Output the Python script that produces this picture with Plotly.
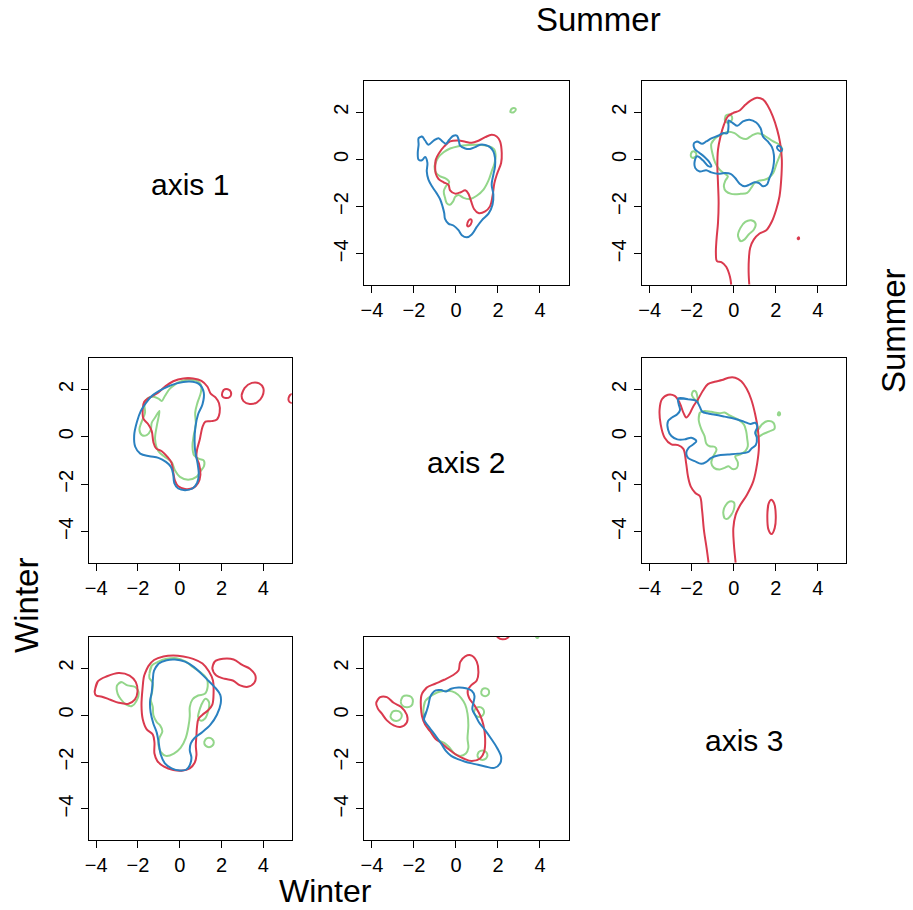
import plotly.graph_objects as go

RED = "#DA3A4E"
BLUE = "#2A80C0"
GREEN = "#93D68A"

X_TICKS = [-4, -2, 0, 2, 4]
Y_TICKS = [-4, -2, 0, 2]
X_RANGE = [-4.36, 5.36]
Y_RANGE = [-5.32, 3.32]
DIAG_LABELS = ["axis 1", "axis 2", "axis 3"]
TOP_LABEL = "Summer"
SIDE_LABEL = "Winter"

# ---------------- panel row 1, col 2 ----------------
p12_blue = [(-1.78, 0.90), (-1.62, 0.97), (-1.47, 0.80), (-1.31, 0.62), (-1.07, 0.79), (-0.83, 0.90),
            (-0.64, 0.76), (-0.48, 0.66), (-0.32, 0.83), (-0.12, 1.00), (0.04, 1.01), (0.12, 0.86),
            (0.20, 0.58), (0.44, 0.46), (0.67, 0.44), (0.91, 0.52), (1.15, 0.62), (1.39, 0.61),
            (1.62, 0.52), (1.78, 0.34), (1.86, 0.06), (1.86, -0.30), (1.78, -0.65), (1.70, -1.07),
            (1.78, -1.49), (1.74, -1.92), (1.55, -2.30), (1.23, -2.58), (0.99, -2.86), (0.75, -3.18),
            (0.52, -3.30), (0.28, -3.21), (0.12, -3.00), (-0.12, -2.80), (-0.36, -2.72), (-0.52, -2.52),
            (-0.56, -2.27), (-0.64, -1.99), (-0.75, -1.70), (-0.91, -1.45), (-1.12, -1.17), (-1.31, -0.86),
            (-1.39, -0.51), (-1.36, -0.15), (-1.47, 0.10), (-1.62, -0.04), (-1.78, -0.01), (-1.82, 0.27),
            (-1.78, 0.62)]
p12_red = [(-0.99, -0.37), (-0.96, -0.01), (-0.80, 0.27), (-0.56, 0.55), (-0.28, 0.76), (0.12, 0.80),
           (0.44, 0.75), (0.75, 0.70), (1.07, 0.79), (1.39, 0.94), (1.70, 1.04), (1.94, 0.97),
           (2.10, 0.76), (2.18, 0.27), (2.15, -0.15), (1.97, -0.58), (1.83, -1.00), (1.74, -1.56),
           (1.62, -1.99), (1.39, -2.20), (1.07, -2.27), (0.86, -2.10), (0.72, -1.77), (0.59, -1.45),
           (0.44, -1.31), (0.23, -1.39), (-0.04, -1.45), (-0.28, -1.31), (-0.36, -1.07), (-0.59, -0.97),
           (-0.83, -0.83), (-0.96, -0.61)]
p12_red_small = [(0.53, -2.80), (0.58, -2.62), (0.70, -2.54), (0.75, -2.58), (0.70, -2.76), (0.58, -2.84)]
p12_green = [(-1.02, -0.30), (-0.86, 0.06), (-0.59, 0.30), (-0.28, 0.46), (0.12, 0.56), (0.59, 0.61),
             (1.07, 0.62), (1.55, 0.56), (1.81, 0.44), (1.89, 0.13), (1.83, -0.18), (1.70, -0.51),
             (1.55, -0.89), (1.31, -1.28), (0.99, -1.54), (0.67, -1.68), (0.36, -1.63), (0.12, -1.51),
             (-0.04, -1.59), (-0.13, -1.77), (-0.29, -1.92), (-0.44, -1.85), (-0.52, -1.63), (-0.58, -1.35),
             (-0.48, -1.14), (-0.32, -0.96), (-0.52, -0.79), (-0.75, -0.72), (-0.94, -0.58)]
p12_green_small = [(2.58, 2.02), (2.65, 2.14), (2.80, 2.17), (2.85, 2.12), (2.76, 2.00), (2.63, 1.99)]

# ---------------- panel row 1, col 3 ----------------
p13_red = [(-0.12, -5.30), (-0.18, -4.97), (-0.36, -4.55), (-0.59, -4.35), (-0.80, -4.31), (-0.85, -3.96),
           (-0.82, -3.39), (-0.75, -2.69), (-0.72, -1.85), (-0.75, -1.00), (-0.78, -0.30), (-0.75, 0.41),
           (-0.63, 0.97), (-0.47, 1.46), (-0.28, 1.82), (-0.04, 1.96), (0.28, 2.07), (0.55, 2.31),
           (0.80, 2.49), (1.10, 2.61), (1.39, 2.54), (1.62, 2.27), (1.86, 1.82), (2.07, 1.25),
           (2.21, 0.69), (2.29, -0.01), (2.26, -0.86), (2.18, -1.56), (2.02, -2.13), (1.82, -2.62),
           (1.55, -3.00), (1.23, -3.14), (0.96, -3.39), (0.78, -3.75), (0.72, -4.24), (0.71, -4.80),
           (0.74, -5.30)]
p13_red_dot = [(3.05, -3.33), (3.10, -3.30), (3.11, -3.36), (3.06, -3.38)]
p13_blue = [(-1.89, 0.69), (-1.74, 0.76), (-1.51, 0.66), (-1.31, 0.76), (-1.04, 0.90), (-0.75, 1.00),
            (-0.52, 1.11), (-0.31, 1.11), (-0.25, 1.39), (-0.25, 1.65), (-0.04, 1.54), (0.17, 1.42),
            (0.44, 1.61), (0.75, 1.68), (1.07, 1.56), (1.28, 1.32), (1.39, 0.97), (1.62, 0.76),
            (1.82, 0.52), (1.91, 0.20), (1.91, -0.15), (1.83, -0.51), (1.70, -0.79), (1.58, -1.07),
            (1.39, -1.14), (1.20, -1.00), (0.99, -0.97), (0.75, -1.07), (0.52, -1.14), (0.28, -1.03),
            (0.07, -0.79), (-0.15, -0.61), (-0.44, -0.58), (-0.75, -0.61), (-1.07, -0.55), (-1.31, -0.46),
            (-1.62, -0.51), (-1.83, -0.37), (-1.86, -0.08), (-1.74, 0.13), (-1.47, -0.04), (-1.23, -0.27),
            (-1.07, -0.30), (-1.15, -0.13), (-1.39, 0.10), (-1.67, 0.30), (-1.86, 0.44)]
p13_blue_small = [(2.06, 0.52), (2.12, 0.58), (2.24, 0.52), (2.30, 0.40), (2.24, 0.34), (2.12, 0.40)]
p13_green = [(-1.07, 0.66), (-0.88, 0.90), (-0.59, 1.04), (-0.28, 1.17), (0.04, 1.11), (0.33, 0.92),
             (0.59, 0.86), (0.86, 1.01), (1.15, 1.11), (1.47, 1.00), (1.86, 0.77), (2.18, 0.62),
             (2.31, 0.45), (2.20, 0.18), (2.04, -0.18), (1.88, -0.58), (1.70, -0.76), (1.47, -0.86),
             (1.20, -0.90), (0.99, -1.00), (0.83, -1.21), (0.64, -1.42), (0.33, -1.46), (-0.12, -1.46),
             (-0.37, -1.35), (-0.47, -1.14), (-0.40, -0.90), (-0.28, -0.72), (-0.47, -0.58), (-0.67, -0.44),
             (-0.88, -0.15), (-1.02, 0.27)]
p13_green_top = [(-0.42, 1.65), (-0.38, 1.85), (-0.22, 1.90), (-0.08, 1.80), (-0.12, 1.62), (-0.28, 1.55)]
p13_green_left = [(-2.05, 0.20), (-1.98, 0.33), (-1.85, 0.32), (-1.78, 0.22), (-1.88, 0.08), (-2.00, 0.08)]
p13_green_low = [(0.32, -3.46), (0.20, -3.23), (0.32, -2.90), (0.55, -2.65), (0.83, -2.58), (1.04, -2.72),
                 (0.96, -2.97), (0.71, -3.18), (0.52, -3.39)]

# ---------------- panel row 2, col 1 ----------------
p21_red = [(0.17, 2.46), (0.64, 2.46), (1.04, 2.36), (1.32, 2.12), (1.48, 1.82), (1.72, 1.65),
           (1.88, 1.41), (1.91, 1.02), (1.78, 0.73), (1.51, 0.66), (1.23, 0.64), (1.09, 0.42),
           (0.96, -0.11), (0.83, -0.54), (0.80, -0.85), (0.93, -1.17), (0.99, -1.60), (0.88, -1.95),
           (0.64, -2.16), (0.25, -2.20), (-0.07, -2.09), (-0.23, -1.85), (-0.31, -1.50), (-0.39, -1.10),
           (-0.59, -0.85), (-0.86, -0.61), (-1.13, -0.49), (-1.26, -0.23), (-1.34, 0.24), (-1.50, 0.52),
           (-1.74, 0.76), (-1.77, 1.16), (-1.70, 1.47), (-1.45, 1.65), (-1.07, 1.84), (-0.70, 2.12),
           (-0.31, 2.34)]
p21_red_small = [(2.02, 1.80), (2.10, 1.97), (2.30, 2.00), (2.45, 1.88), (2.40, 1.68), (2.20, 1.63), (2.06, 1.68)]
p21_red_mid = [(2.96, 1.75), (3.10, 2.05), (3.45, 2.27), (3.80, 2.25), (4.00, 2.05), (3.95, 1.70),
               (3.70, 1.45), (3.35, 1.38), (3.05, 1.50)]
p21_red_edge = [(5.20, 1.60), (5.28, 1.76), (5.45, 1.80), (5.60, 1.70), (5.60, 1.50), (5.42, 1.42), (5.26, 1.46)]
p21_blue = [(-1.86, 1.09), (-1.66, 1.37), (-1.34, 1.72), (-0.78, 2.03), (-0.15, 2.25), (0.48, 2.33),
            (0.93, 2.22), (1.15, 1.86), (1.09, 1.37), (0.88, 0.95), (0.75, 0.42), (0.71, -0.18),
            (0.75, -0.68), (0.85, -1.10), (0.91, -1.60), (0.83, -1.95), (0.61, -2.18), (0.25, -2.25),
            (-0.07, -2.18), (-0.26, -1.95), (-0.31, -1.60), (-0.42, -1.27), (-0.66, -1.06), (-1.02, -0.89),
            (-1.45, -0.82), (-1.89, -0.71), (-2.13, -0.42), (-2.18, 0.06), (-2.05, 0.62)]
p21_green = [(-0.07, 2.29), (-0.47, 2.03), (-0.71, 1.72), (-0.86, 1.51), (-1.02, 1.61), (-1.26, 1.69),
             (-1.55, 1.61), (-1.69, 1.37), (-1.66, 1.02), (-1.81, 0.66), (-1.93, 0.31), (-1.81, 0.07),
             (-1.58, 0.07), (-1.39, 0.28), (-1.34, 0.59), (-1.18, 0.81), (-0.97, 1.09), (-1.10, 0.45),
             (-1.18, -0.11), (-1.02, -0.61), (-0.71, -0.85), (-0.39, -1.07), (-0.23, -1.41), (0.01, -1.69),
             (0.40, -1.81), (0.80, -1.69), (0.99, -1.45), (1.16, -1.24), (1.15, -1.00), (0.93, -0.93),
             (0.69, -0.79), (0.61, -0.40), (0.67, 0.06), (0.77, 0.52), (0.74, 1.02), (0.85, 1.44),
             (1.01, 1.86), (1.02, 2.18), (0.80, 2.36), (0.36, 2.40)]

# ---------------- panel row 2, col 3 ----------------
p23_red = [(-1.20, -5.30), (-1.29, -4.70), (-1.42, -3.93), (-1.51, -3.08), (-1.61, -2.51), (-1.83, -2.37),
           (-2.05, -2.09), (-2.18, -1.67), (-2.27, -1.10), (-2.40, -0.51), (-2.65, -0.35), (-2.97, -0.32),
           (-3.29, -0.04), (-3.48, 0.52), (-3.53, 1.16), (-3.42, 1.58), (-3.13, 1.77), (-2.81, 1.72),
           (-2.58, 1.44), (-2.40, 1.02), (-2.26, 0.81), (-2.10, 0.97), (-1.94, 1.26), (-1.70, 1.58),
           (-1.47, 1.94), (-1.23, 2.22), (-0.91, 2.32), (-0.56, 2.39), (-0.25, 2.49), (0.07, 2.49),
           (0.36, 2.34), (0.61, 2.03), (0.83, 1.58), (1.02, 0.95), (1.15, 0.31), (1.20, -0.40),
           (1.12, -1.10), (0.93, -1.88), (0.63, -2.44), (0.31, -2.88), (0.09, -3.29), (-0.02, -3.86),
           (0.01, -4.56), (0.09, -5.30)]
p23_red_oval = [(1.60, -3.30), (1.65, -2.85), (1.78, -2.65), (1.92, -2.80), (2.00, -3.30), (1.95, -3.85),
                (1.80, -4.10), (1.65, -3.90)]
p23_blue = [(-2.65, 1.61), (-2.18, 1.58), (-1.78, 1.51), (-1.62, 1.27), (-1.50, 1.06), (-1.26, 0.99),
            (-0.88, 0.93), (-0.44, 0.85), (0.04, 0.76), (0.48, 0.64), (0.80, 0.54), (1.02, 0.59),
            (1.12, 0.42), (1.02, 0.17), (1.10, -0.04), (1.05, -0.35), (0.86, -0.48), (0.67, -0.65),
            (0.20, -0.71), (-0.28, -0.75), (-0.75, -0.79), (-1.07, -0.89), (-1.31, -1.06), (-1.55, -1.14),
            (-1.86, -1.03), (-2.18, -0.89), (-2.26, -0.68), (-2.15, -0.47), (-1.93, -0.32), (-1.78, -0.18),
            (-2.02, -0.04), (-2.34, -0.11), (-2.69, -0.11), (-2.97, 0.03), (-3.13, 0.31), (-3.13, 0.66),
            (-2.94, 0.81), (-2.69, 0.95), (-2.56, 1.12), (-2.62, 1.37)]
p23_green = [(-1.67, 0.73), (-1.61, 1.02), (-1.39, 1.09), (-1.07, 1.05), (-0.67, 0.99), (-0.44, 1.02),
             (-0.20, 0.90), (0.20, 0.73), (0.48, 0.52), (0.59, 0.24), (0.64, -0.08), (0.67, -0.40),
             (0.55, -0.61), (0.29, -0.75), (0.07, -0.82), (0.20, -1.10), (0.15, -1.31), (-0.06, -1.36),
             (-0.25, -1.24), (-0.44, -1.31), (-0.67, -1.38), (-0.94, -1.31), (-1.07, -1.10), (-0.99, -0.85),
             (-0.82, -0.54), (-0.91, -0.42), (-1.15, -0.40), (-1.31, -0.28), (-1.39, 0.03), (-1.54, 0.31)]
p23_green_top = [(-2.00, 1.80), (-1.92, 1.93), (-1.80, 1.90), (-1.72, 1.62), (-1.70, 1.46), (-1.82, 1.55), (-1.95, 1.68)]
p23_green_right = [(1.15, 0.28), (1.34, 0.52), (1.62, 0.66), (1.89, 0.59), (1.94, 0.34), (1.70, 0.23),
                   (1.39, 0.11), (1.15, 0.00), (1.05, 0.14)]
p23_green_dot = [(2.10, 0.97), (2.14, 1.03), (2.20, 1.00), (2.19, 0.92), (2.12, 0.91)]
p23_green_low = [(-0.44, -3.43), (-0.50, -3.19), (-0.40, -2.91), (-0.20, -2.73), (0.01, -2.77), (0.01, -3.05),
                 (-0.12, -3.29), (-0.31, -3.46)]

# ---------------- panel row 3, col 1 ----------------
p31_red = [(-1.70, 1.68), (-1.50, 2.08), (-1.23, 2.34), (-0.78, 2.49), (-0.31, 2.53), (0.17, 2.49),
           (0.64, 2.39), (1.09, 2.19), (1.40, 1.85), (1.59, 1.47), (1.62, 0.97), (1.56, 0.44),
           (1.36, 0.20), (1.09, 0.01), (0.90, -0.16), (0.83, -0.47), (0.80, -0.86), (0.77, -1.31),
           (0.80, -1.71), (0.72, -2.02), (0.48, -2.27), (0.09, -2.37), (-0.31, -2.34), (-0.75, -2.20),
           (-1.07, -1.96), (-1.21, -1.64), (-1.21, -1.17), (-1.29, -0.83), (-1.58, -0.61), (-1.77, -0.18),
           (-1.83, 0.41), (-1.78, 1.12)]
p31_red_left = [(-4.07, 0.97), (-3.92, 1.43), (-3.48, 1.65), (-2.92, 1.79), (-2.40, 1.68), (-2.10, 1.40),
                (-2.02, 1.00), (-2.15, 0.65), (-2.45, 0.48), (-2.92, 0.52), (-3.32, 0.65), (-3.72, 0.78),
                (-4.00, 0.83)]
p31_red_right = [(1.56, 1.99), (1.67, 2.27), (2.07, 2.39), (2.58, 2.36), (2.99, 2.13), (3.37, 1.96),
                 (3.62, 1.68), (3.57, 1.37), (3.26, 1.20), (2.89, 1.26), (2.54, 1.47), (2.15, 1.54),
                 (1.75, 1.68)]
p31_blue = [(-1.23, 1.89), (-1.02, 2.18), (-0.63, 2.33), (-0.23, 2.36), (0.25, 2.27), (0.67, 2.05),
            (1.04, 1.75), (1.36, 1.47), (1.67, 1.19), (1.94, 0.86), (1.96, 0.48), (1.78, 0.01),
            (1.47, -0.41), (1.05, -0.75), (0.72, -0.97), (0.53, -1.21), (0.48, -1.50), (0.56, -1.82),
            (0.48, -2.13), (0.32, -2.32), (0.01, -2.36), (-0.39, -2.27), (-0.71, -2.06), (-0.91, -1.68),
            (-1.01, -1.17), (-1.10, -0.75), (-1.26, -0.37), (-1.39, 0.10), (-1.42, 0.58), (-1.34, 0.97),
            (-1.29, 1.47)]
p31_green = [(-1.45, 1.75), (-1.34, 2.10), (-1.02, 2.27), (-0.63, 2.39), (-0.15, 2.42), (0.29, 2.27),
             (0.64, 2.03), (0.99, 1.82), (1.28, 1.57), (1.34, 1.23), (1.20, 0.90), (0.88, 0.83),
             (0.61, 0.66), (0.48, 0.34), (0.48, -0.04), (0.42, -0.47), (0.29, -0.97), (0.04, -1.40),
             (-0.28, -1.64), (-0.66, -1.74), (-0.91, -1.57), (-1.02, -1.26), (-0.97, -0.97), (-0.83, -0.69),
             (-0.94, -0.44), (-1.10, -0.30), (-1.26, -0.01), (-1.29, 0.34), (-1.39, 0.66), (-1.32, 1.00),
             (-1.29, 1.37), (-1.45, 1.57)]
p31_green_left = [(-3.00, 1.26), (-2.81, 1.40), (-2.50, 1.26), (-2.13, 1.19), (-1.97, 0.97), (-2.08, 0.58),
                  (-2.29, 0.38), (-2.56, 0.44), (-2.81, 0.66), (-2.97, 0.90)]
p31_green_right = [(0.91, 0.10), (1.04, 0.44), (1.23, 0.69), (1.40, 0.55), (1.36, 0.16), (1.20, -0.16),
                   (1.00, -0.24), (0.88, -0.08)]
p31_green_ring = [(1.17, -1.17), (1.24, -1.03), (1.40, -0.97), (1.56, -1.03), (1.63, -1.17), (1.56, -1.31),
                  (1.40, -1.37), (1.24, -1.31)]

# ---------------- panel row 3, col 2 ----------------
p32_red = [(-1.62, 0.90), (-1.39, 1.17), (-0.99, 1.33), (-0.56, 1.50), (-0.17, 1.68), (0.12, 1.89),
           (0.20, 2.25), (0.44, 2.50), (0.75, 2.53), (0.99, 2.27), (1.07, 1.82), (0.99, 1.47),
           (0.72, 1.26), (0.56, 1.05), (0.63, 0.72), (0.88, 0.41), (1.15, -0.01), (1.31, -0.44),
           (1.39, -1.00), (1.34, -1.57), (1.15, -1.85), (0.75, -1.96), (0.36, -1.85), (-0.01, -1.68),
           (-0.36, -1.45), (-0.67, -1.21), (-0.99, -1.00), (-1.23, -0.69), (-1.47, -0.41), (-1.62, -0.04),
           (-1.67, 0.34), (-1.67, 0.69)]
p32_red_left = [(-3.80, 0.52), (-3.61, 0.76), (-3.29, 0.76), (-2.97, 0.52), (-2.61, 0.34), (-2.34, 0.01),
                (-2.34, -0.32), (-2.65, -0.51), (-2.97, -0.44), (-3.29, -0.23), (-3.53, 0.06), (-3.72, 0.27)]
p32_red_top = [(1.90, 3.45), (2.00, 3.30), (2.21, 3.22), (2.45, 3.28), (2.55, 3.42), (2.45, 3.60),
               (2.20, 3.65), (1.95, 3.58)]
p32_blue = [(-1.53, -0.18), (-1.40, 0.16), (-1.31, 0.44), (-1.23, 0.76), (-1.12, 0.93), (-0.96, 1.05),
            (-0.71, 1.06), (-0.47, 1.00), (-0.23, 1.12), (0.12, 1.17), (0.47, 1.14), (0.75, 1.03),
            (0.88, 0.81), (0.83, 0.52), (0.78, 0.24), (0.94, -0.04), (1.10, -0.32), (1.36, -0.61),
            (1.67, -1.00), (1.96, -1.40), (2.15, -1.78), (2.10, -2.06), (1.83, -2.25), (1.39, -2.19),
            (0.91, -2.09), (0.44, -1.99), (0.09, -1.88), (-0.23, -1.74), (-0.47, -1.54), (-0.71, -1.21),
            (-0.99, -0.86), (-1.28, -0.51)]
p32_green = [(-1.55, 0.24), (-1.47, 0.58), (-1.31, 0.73), (-1.07, 0.88), (-0.75, 1.00), (-0.36, 1.03),
             (-0.04, 0.95), (0.25, 0.72), (0.44, 0.44), (0.55, 0.06), (0.59, -0.44), (0.55, -1.00),
             (0.59, -1.40), (0.47, -1.64), (0.20, -1.74), (-0.07, -1.64), (-0.32, -1.37), (-0.56, -1.19),
             (-0.83, -1.07), (-1.07, -0.86), (-1.31, -0.58), (-1.50, -0.30)]
p32_green_top = [(3.80, 3.36), (3.85, 3.28), (3.92, 3.30), (3.90, 3.40)]
p32_green_c1 = [(-3.12, -0.04), (-3.02, 0.14), (-2.85, 0.18), (-2.65, 0.12), (-2.58, -0.04), (-2.68, -0.20),
                (-2.85, -0.25), (-3.05, -0.18)]
p32_green_c2 = [(-2.63, 0.58), (-2.54, 0.78), (-2.34, 0.83), (-2.12, 0.76), (-2.05, 0.58), (-2.14, 0.38),
                (-2.34, 0.33), (-2.55, 0.40)]
p32_green_c3 = [(1.20, 0.97), (1.26, 1.10), (1.39, 1.14), (1.53, 1.09), (1.58, 0.97), (1.52, 0.85),
                (1.39, 0.80), (1.25, 0.85)]
p32_green_c4 = [(0.86, 0.13), (0.93, 0.28), (1.10, 0.34), (1.27, 0.28), (1.34, 0.13), (1.27, -0.02),
                (1.10, -0.08), (0.93, -0.02)]
p32_green_c5 = [(1.02, -1.71), (1.09, -1.57), (1.26, -1.51), (1.43, -1.57), (1.50, -1.71), (1.43, -1.85),
                (1.26, -1.91), (1.09, -1.85)]

# curves per panel: (points, colour, closed)
PANEL_CURVES = {
    (1, 2): [(p12_green, GREEN, True), (p12_green_small, GREEN, True), (p12_red, RED, True),
             (p12_red_small, RED, True), (p12_blue, BLUE, True)],
    (1, 3): [(p13_green, GREEN, True), (p13_green_top, GREEN, True), (p13_green_left, GREEN, True),
             (p13_green_low, GREEN, True), (p13_red, RED, False), (p13_red_dot, RED, True),
             (p13_blue, BLUE, True), (p13_blue_small, BLUE, True)],
    (2, 1): [(p21_green, GREEN, True), (p21_red, RED, True), (p21_red_small, RED, True),
             (p21_red_mid, RED, True), (p21_red_edge, RED, True), (p21_blue, BLUE, True)],
    (2, 3): [(p23_green, GREEN, True), (p23_green_top, GREEN, True), (p23_green_right, GREEN, True),
             (p23_green_dot, GREEN, True), (p23_green_low, GREEN, True), (p23_red, RED, False),
             (p23_red_oval, RED, True), (p23_blue, BLUE, True)],
    (3, 1): [(p31_green, GREEN, True), (p31_green_left, GREEN, True), (p31_green_right, GREEN, True),
             (p31_green_ring, GREEN, True), (p31_red, RED, True), (p31_red_left, RED, True),
             (p31_red_right, RED, True), (p31_blue, BLUE, True)],
    (3, 2): [(p32_green, GREEN, True), (p32_green_top, GREEN, True), (p32_green_c1, GREEN, True),
             (p32_green_c2, GREEN, True), (p32_green_c3, GREEN, True), (p32_green_c4, GREEN, True),
             (p32_green_c5, GREEN, True), (p32_red, RED, True), (p32_red_left, RED, True),
             (p32_red_top, RED, True), (p32_blue, BLUE, True)],
}

W, H = 913, 910
COL_PX = {1: (85, 289), 2: (362, 567), 3: (641, 846)}
ROW_PX = {1: (81, 285), 2: (358, 563), 3: (637, 840)}
FONT = "Liberation Sans, Arial, sans-serif"

fig = go.Figure()
layout = dict(width=W, height=H, autosize=False, margin=dict(l=0, r=0, t=0, b=0),
              paper_bgcolor="white", plot_bgcolor="white", showlegend=False,
              font=dict(family=FONT, color="black"))

for idx, (key, curves) in enumerate(PANEL_CURVES.items(), start=1):
    r, c = key
    xa = "x" if idx == 1 else f"x{idx}"
    ya = "y" if idx == 1 else f"y{idx}"
    for pts, col, closed in curves:
        xs = [p[0] for p in pts]
        ys = [p[1] for p in pts]
        if closed:
            xs = xs + xs[:2]
            ys = ys + ys[:2]
        fig.add_trace(go.Scatter(x=xs, y=ys, mode="lines", xaxis=xa, yaxis=ya,
                                 line=dict(color=col, width=2, shape="spline", smoothing=1.0),
                                 hoverinfo="skip"))
    x0, x1 = COL_PX[c]
    y0, y1 = ROW_PX[r]
    axis_common = dict(showline=True, mirror=True, linecolor="black", linewidth=1,
                       ticks="outside", ticklen=7, tickwidth=1, tickcolor="black",
                       showgrid=False, zeroline=False, fixedrange=True,
                       tickfont=dict(size=20, family=FONT, color="black"))
    layout[f"xaxis{'' if idx == 1 else idx}"] = dict(
        domain=[x0 / W, x1 / W], range=X_RANGE, tickvals=X_TICKS,
        anchor=ya, **axis_common)
    layout[f"yaxis{'' if idx == 1 else idx}"] = dict(
        domain=[1 - y1 / H, 1 - y0 / H], range=Y_RANGE, tickvals=Y_TICKS,
        tickangle=-90, anchor=xa, **axis_common)

annotations = []
for i, lab in enumerate(DIAG_LABELS, start=1):
    cx = sum(COL_PX[i]) / 2
    cy = sum(ROW_PX[i]) / 2 + 2
    annotations.append(dict(text=lab, x=cx / W, y=1 - cy / H, xref="paper", yref="paper",
                            showarrow=False, xanchor="center", yanchor="middle",
                            font=dict(size=30, family=FONT, color="black")))
annotations += [
    dict(text=TOP_LABEL, x=597 / W, y=1 - 19 / H, textangle=0, font=dict(size=33, family=FONT, color="black")),
    dict(text=TOP_LABEL, x=893 / W, y=1 - 331 / H, textangle=-90, font=dict(size=33, family=FONT, color="black")),
    dict(text=SIDE_LABEL, x=323 / W, y=1 - 891 / H, textangle=0, font=dict(size=32, family=FONT, color="black")),
    dict(text=SIDE_LABEL, x=22 / W, y=1 - 605 / H, textangle=-90, font=dict(size=33, family=FONT, color="black")),
]
for a in annotations[3:]:
    a.update(xref="paper", yref="paper", showarrow=False, xanchor="center", yanchor="middle")
layout["annotations"] = annotations

fig.update_layout(**layout)
fig.write_html("out.html")
